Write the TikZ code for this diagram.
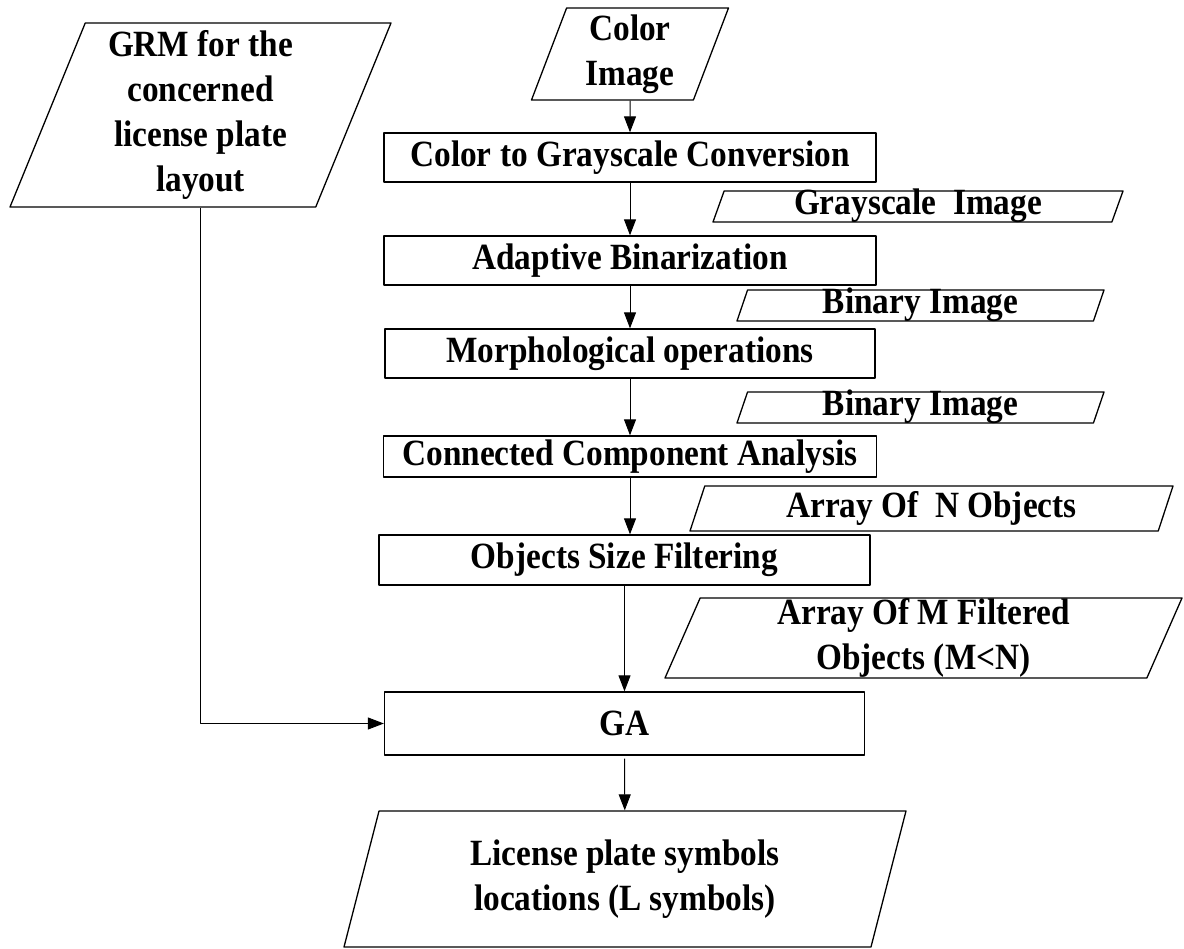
\documentclass[tikz,border=0pt]{standalone}
\usepackage{fontspec}
\setmainfont{Liberation Serif}[FakeStretch=0.9]
\usetikzlibrary{shapes.geometric,arrows.meta}
\tikzset{
  proc/.style={draw, line width=1.3pt, rectangle, inner sep=0pt},
  io/.style={draw, line width=1.3pt, trapezium, trapezium stretches body, inner sep=0pt, align=center},
  thin/.style={text height=23pt, text depth=6pt},
  flow/.style={-{Triangle[length=16pt,width=12pt]}, line width=1pt},
}
\begin{document}
\begin{tikzpicture}[x=1pt, y=-1pt, line join=round, font=\fontsize{37}{45}\selectfont\bfseries]
  \useasboundingbox (0,0) rectangle (1184,949);
  % inputs and outputs
  \node[io, trapezium left angle=66, trapezium right angle=114, minimum width=381pt, minimum height=184pt] (grm) at (200.5,115) {GRM for the\\concerned\\license plate\\layout};
  \node[io, trapezium left angle=66, trapezium right angle=114, minimum width=197pt, minimum height=92pt] (img) at (630,54) {Color\\Image};
  \node[io, thin, trapezium left angle=69, trapezium right angle=111, minimum width=410pt, minimum height=31pt] (gray) at (918,206.5) {Grayscale\ \ Image};
  \node[io, thin, trapezium left angle=70, trapezium right angle=110, minimum width=367pt, minimum height=31pt] (bina) at (920.5,305.5) {Binary Image};
  \node[io, thin, trapezium left angle=70, trapezium right angle=110, minimum width=367pt, minimum height=31pt] (binb) at (920.5,407.5) {Binary Image};
  \node[io, thin, trapezium left angle=63, trapezium right angle=117, minimum width=483pt, minimum height=45pt] (arrn) at (931.5,508.5) {Array Of\ \ N Objects};
  \node[io, trapezium left angle=66, trapezium right angle=114, minimum width=517pt, minimum height=80pt] (arrm) at (923.5,638) {Array Of M Filtered\\Objects (M<N)};
  \node[io, trapezium left angle=66, trapezium right angle=114, minimum width=562pt, minimum height=136pt] (out) at (625,879) {License plate symbols\\locations (L symbols)};
  % processing steps
  \node[proc, minimum width=492pt, minimum height=49pt] (conv) at (630,157.5) {Color to Grayscale Conversion};
  \node[proc, minimum width=492pt, minimum height=49pt] (bin) at (630,260.5) {Adaptive Binarization};
  \node[proc, minimum width=490pt, minimum height=49pt] (morph) at (630,353.5) {Morphological operations};
  \node[proc, minimum width=493pt, minimum height=41pt] (cca) at (630,456.5) {Connected Component Analysis};
  \node[proc, minimum width=491pt, minimum height=50pt] (filt) at (624.5,560) {Objects Size Filtering};
  \node[proc, minimum width=480pt, minimum height=63pt] (ga) at (624.5,723.5) {GA};
  % connectors
  \draw[flow] (img) -- (conv);
  \draw[flow] (conv) -- (bin);
  \draw[flow] (bin) -- (morph);
  \draw[flow] (morph) -- (cca);
  \draw[flow] (cca.south) -- (cca.south |- filt.north);
  \draw[flow] (filt) -- (ga);
  \draw[flow, shorten <=3pt] (ga) -- (out);
  \draw[flow] (grm.center |- grm.south) |- (ga.west);
\end{tikzpicture}
\end{document}
